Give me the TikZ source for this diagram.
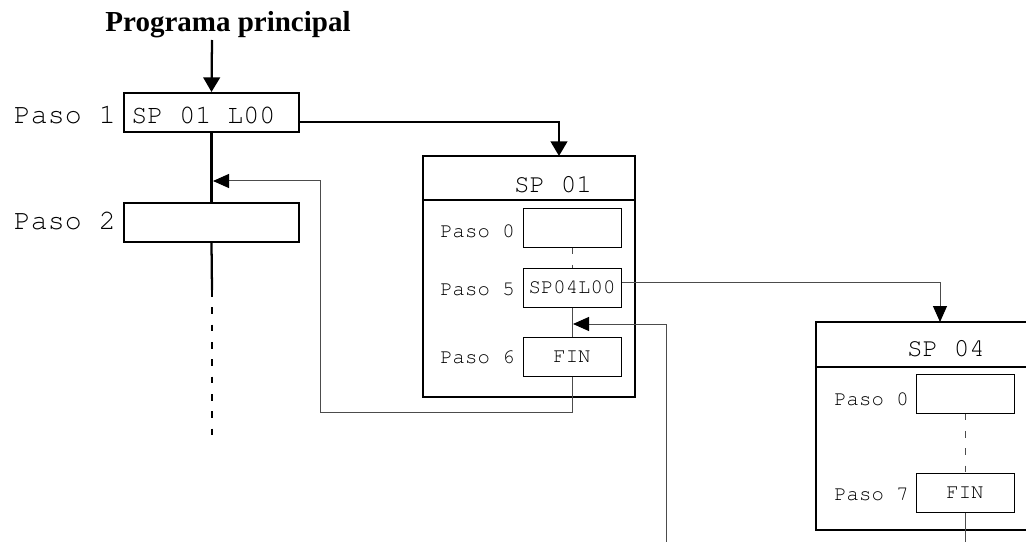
\documentclass[tikz,border=0pt]{standalone}
\usepackage[T1,TU]{fontenc}
\usepackage{fontspec}
\setmainfont{Liberation Serif}
\setmonofont{Liberation Mono}
\usetikzlibrary{arrows.meta}
\newcommand{\cour}{\fontencoding{T1}\fontfamily{pcr}\selectfont}
\begin{document}
\begin{tikzpicture}[x=0.75pt,y=-0.75pt,
  thickln/.style={line width=1.7pt},
  thinln/.style={line width=0.75pt, draw=black!70},
  dashln/.style={dash pattern=on 5pt off 8pt},
  bigbox/.style={draw, line width=1.5pt, inner sep=0pt, minimum width=131.25pt, minimum height=29.25pt},
  outerbox/.style={draw, line width=1.6pt, inner sep=0pt},
  smallbox/.style={draw, line width=0.75pt, inner sep=0pt, minimum width=73.5pt, minimum height=29.25pt, font=\fontsize{15.5}{16}\cour},
  biglbl/.style={inner sep=0pt, font=\fontsize{21.2}{22}\cour},
  smalllbl/.style={inner sep=0pt, anchor=base east, font=\fontsize{15.5}{16}\cour},
  bigtip/.style={-{Triangle[length=11pt,width=12.5pt,color=black]}},
  smalltip/.style={-{Triangle[length=12pt,width=10.5pt,color=black]}}
]
\clip (0,0) rectangle (1026,542);
\fill[white] (0,0) rectangle (1026,542);

% title
\node[inner sep=0pt, anchor=base, font=\fontsize{21.75}{22}\selectfont\bfseries] (title) at (228,32) {Programa principal};

% main program
\node[bigbox] (b1) at (211.5,112.5) {};
\node[biglbl, anchor=base west, font=\fontsize{20}{21}\cour] (t1) at (131,123) {SP 01 L00};
\node[biglbl, anchor=base east] (l1) at (116,123) {Paso 1};
\node[bigbox] (b2) at (211.5,222.5) {};
\node[biglbl, anchor=base east] (l2) at (116,229) {Paso 2};

% SP 01 block
\node[outerbox, minimum width=159pt, minimum height=180.75pt] (sp01) at (529,276.5) {};
\coordinate (hd1) at (0,200);
\draw[line width=1.5pt] (sp01.west |- hd1) -- (sp01.east |- hd1);
\node[biglbl, anchor=base, font=\fontsize{19.5}{20}\cour] (h01) at (553,192) {SP 01};
\node[smallbox] (p0) at (572,227.5) {};
\node[smalllbl] (lp0) at (515,238) {Paso 0};
\node[smallbox] (p5) at (572,287.5) {SP04L00};
\node[smalllbl] (lp5) at (515,295) {Paso 5};
\node[smallbox] (p6) at (572,356.5) {FIN};
\node[smalllbl] (lp6) at (515,363) {Paso 6};

% SP 04 block
\node[outerbox, minimum width=168pt, minimum height=156pt] (sp04) at (928,426) {};
\coordinate (hd4) at (0,367);
\draw[line width=1.5pt] (sp04.west |- hd4) -- (sp04.east |- hd4);
\node[biglbl, anchor=base, font=\fontsize{19.5}{20}\cour] (h04) at (946,356) {SP 04};
\node[smallbox] (q0) at (965,393.5) {};
\node[smalllbl] (lq0) at (909,405) {Paso 0};
\node[smallbox] (q7) at (965,492.5) {FIN};
\node[smalllbl] (lq7) at (909,500) {Paso 7};

% connectors main program
\coordinate (in) at (212,40);
\draw[thickln,bigtip] (in) -- (b1.north);
\draw[thickln] (b1.south) -- (b2.north);
\coordinate (d1) at (212,290);
\coordinate (d2) at (212,437);
\draw[thickln] (b2.south) -- (d1);
\draw[thickln,dashln] (d1) -- (d2);

% call SP 01
\coordinate (y122) at (0,122);
\coordinate (s1in) at (559,156);
\draw[thickln,bigtip] (b1.east |- y122) -| (s1in);

% inside SP 01
\draw[thinln,dashln] (p0.south) -- (p5.north);
\draw[thinln] (p5.south) -- (p6.north);

% return from SP 01
\coordinate (f1) at (572,412);
\coordinate (f2) at (320,412);
\coordinate (f3) at (320,181);
\coordinate (m1) at (213,181);
\draw[thinln,smalltip] (p6.south) -- (f1) -- (f2) -- (f3) -- (m1);

% call SP 04
\coordinate (y282) at (0,282);
\coordinate (s4in) at (940,322);
\draw[thinln,smalltip] (p5.east |- y282) -| (s4in);

% return from SP 04
\coordinate (h0) at (666,546);
\coordinate (h1) at (666,324);
\coordinate (m2) at (573,324);
\draw[thinln,smalltip] (h0) -- (h1) -- (m2);

% inside SP 04
\draw[thinln,dashln] (q0.south) -- (q7.north);
\coordinate (k) at (965,546);
\draw[thinln] (q7.south) -- (k);
\end{tikzpicture}
\end{document}
